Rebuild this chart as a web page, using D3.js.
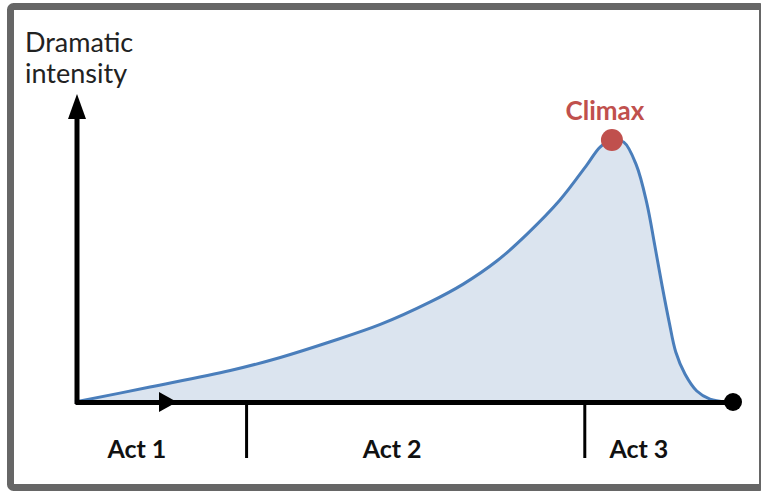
<!DOCTYPE html>
<html>
<head>
<meta charset="utf-8">
<script src="https://cdn.jsdelivr.net/npm/d3@7"></script>
<style>
  html, body { margin: 0; padding: 0; background: #fff; }
  svg { display: block; }
</style>
</head>
<body>
<div id="chart"></div>
<script>
// story time (0-100) vs dramatic intensity (0-100)
const storyTime = [0, 11.4, 23.6, 31.2, 38.8, 46.4, 54.0, 59.0, 64.1, 68.7, 73.7, 77.8, 79.8, 81.6,
                   83.4, 85.3, 86.9, 88.1, 89.2, 90.3, 91.3, 92.7, 94.5, 96.5, 99.1, 100];
const intensity = [0, 5.7, 12.0, 17.0, 23.0, 29.6, 38.2, 45.0, 53.8, 64.1, 77.1, 90.5, 97.3, 100,
                   99.2, 90.5, 75.9, 59.9, 44.7, 30.5, 19.1, 10.7, 4.2, 1.1, 0, 0];
const actBreaks = [26.0, 77.4];
const actNames = ["Act 1", "Act 2", "Act 3"];
const actCenters = [9.4, 48.2, 85.7];
const climax = { t: 81.6, v: 100, label: "Climax" };
const yTitle = ["Dramatic", "intensity"];

const W = 761, H = 491;
const svg = d3.select("#chart").append("svg")
    .attr("width", W)
    .attr("height", H);

const x = d3.scaleLinear().domain([0, 100]).range([75, 733]);
const y = d3.scaleLinear().domain([0, 100]).range([402, 140]);

const pts = storyTime.map((t, i) => ({ t: t, v: intensity[i] }));
const curve = d3.curveCatmullRom.alpha(0.5);

// frame
svg.append("rect")
    .attr("x", 10.5).attr("y", 6.5)
    .attr("width", 752).attr("height", 481)
    .attr("rx", 3)
    .attr("fill", "#fff")
    .attr("stroke", "#666")
    .attr("stroke-width", 7);

// area + curve
const area = d3.area()
    .x(d => x(d.t))
    .y0(y(0))
    .y1(d => y(d.v))
    .curve(curve);

svg.append("path")
    .datum(pts)
    .attr("d", area)
    .attr("fill", "#dbe4ef");

const line = d3.line()
    .x(d => x(d.t))
    .y(d => y(d.v))
    .curve(curve);

svg.append("path")
    .datum(pts)
    .attr("d", line)
    .attr("fill", "none")
    .attr("stroke", "#4a7ebb")
    .attr("stroke-width", 3);

// x axis with act break ticks
const xAxis = svg.append("g")
    .attr("transform", `translate(0,${y(0)})`)
    .call(d3.axisBottom(x).tickValues(actBreaks).tickSize(56).tickSizeOuter(0).tickFormat(""));
xAxis.select(".domain").attr("stroke", "#000").attr("stroke-width", 5);
xAxis.selectAll(".tick line").attr("stroke", "#000").attr("stroke-width", 3);

// x arrowhead
const ax = x(15.5);
svg.append("path")
    .attr("d", `M${ax},${y(0)} L${ax - 18},${y(0) - 10} L${ax - 18},${y(0) + 10} Z`)
    .attr("fill", "#000");

// end dot
svg.append("circle")
    .attr("cx", x(100)).attr("cy", y(0))
    .attr("r", 9)
    .attr("fill", "#000");

// y axis with arrow
svg.append("line")
    .attr("x1", x(0) + 2).attr("x2", x(0) + 2)
    .attr("y1", y(0) + 2).attr("y2", 112)
    .attr("stroke", "#000")
    .attr("stroke-width", 5);
svg.append("path")
    .attr("d", `M${x(0) + 2},94 L${x(0) + 11},119 L${x(0) - 7},119 Z`)
    .attr("fill", "#000");

// y title
svg.append("text")
    .attr("x", 25).attr("y", 52)
    .attr("font-family", "Lato, sans-serif")
    .attr("font-size", 27)
    .attr("fill", "#222")
    .selectAll("tspan")
    .data(yTitle)
    .join("tspan")
    .attr("x", 25)
    .attr("dy", (d, i) => i ? 31 : 0)
    .text(d => d);

// act labels
svg.selectAll(".act")
    .data(actNames)
    .join("text")
    .attr("class", "act")
    .attr("x", (d, i) => x(actCenters[i]))
    .attr("y", 458)
    .attr("text-anchor", "middle")
    .attr("font-family", "Lato, sans-serif")
    .attr("font-weight", "bold")
    .attr("font-size", 25)
    .attr("fill", "#111")
    .text(d => d);

// climax
svg.append("circle")
    .attr("cx", x(climax.t)).attr("cy", y(climax.v))
    .attr("r", 11)
    .attr("fill", "#c0504d");
svg.append("text")
    .attr("x", x(climax.t) - 7)
    .attr("y", 120)
    .attr("text-anchor", "middle")
    .attr("font-family", "Lato, sans-serif")
    .attr("font-weight", "bold")
    .attr("font-size", 26)
    .attr("fill", "#c0504d")
    .text(climax.label);
</script>
</body>
</html>
